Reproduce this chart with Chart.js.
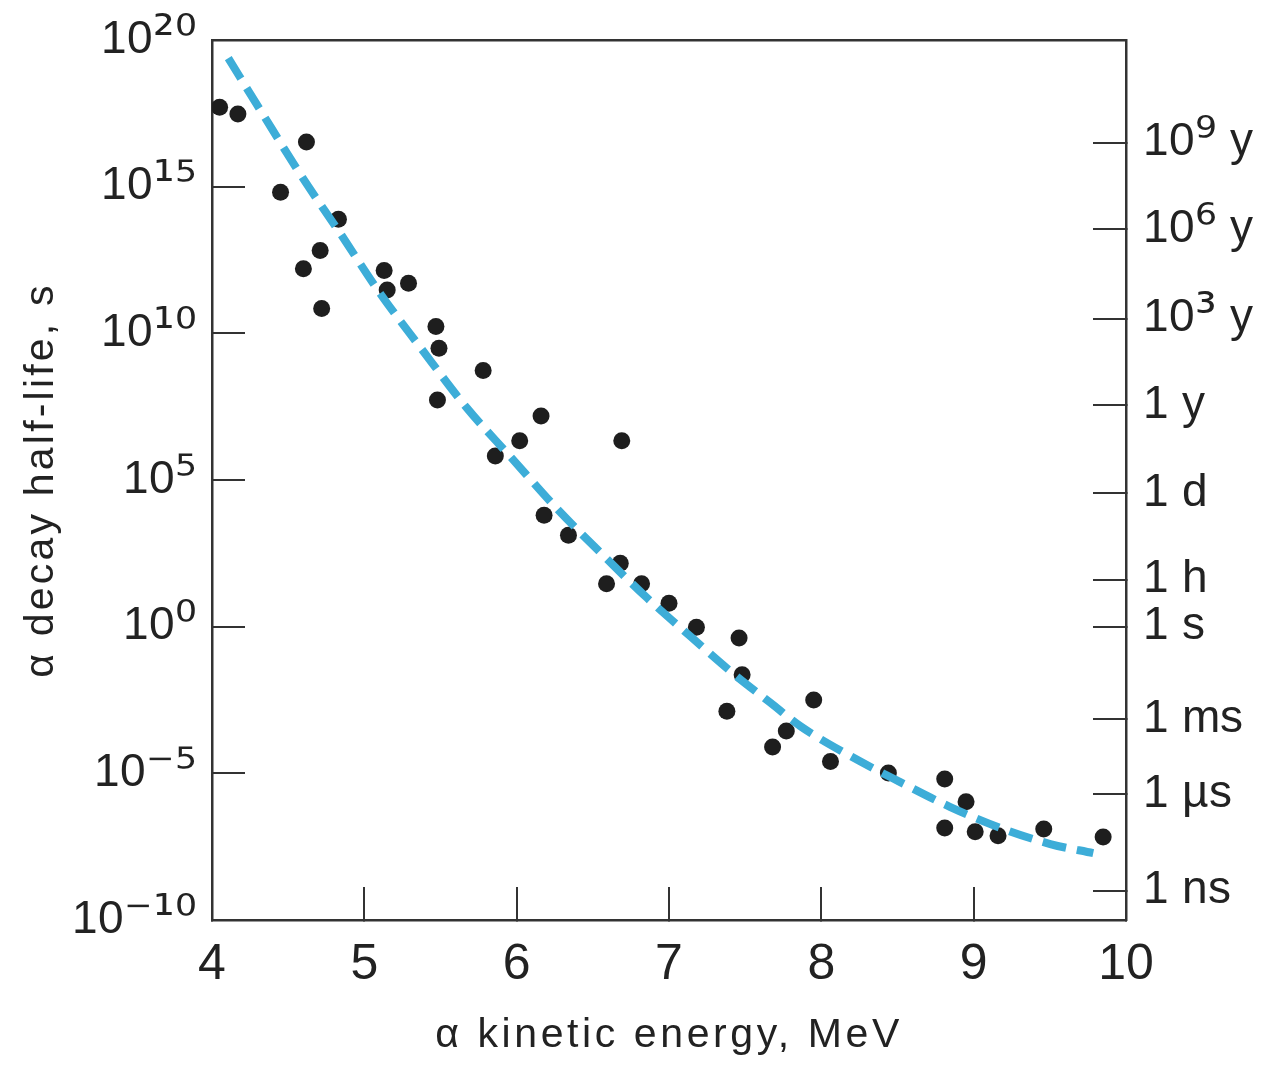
<!DOCTYPE html>
<html>
<head>
<meta charset="utf-8">
<script src="https://cdn.jsdelivr.net/npm/chart.js@4/dist/chart.umd.min.js"></script>
<style>
  @font-face { font-family: 'TickSans'; src: local('Liberation Sans'), local('LiberationSans'); }
  @font-face { font-family: 'TickSans'; src: local('DejaVu Sans'), local('DejaVuSans'); size-adjust: 118%;
               unicode-range: U+00B2-00B3, U+00B9, U+2070-207F; }
  html, body { margin: 0; padding: 0; background: #ffffff; }
  #wrap { width: 1262px; height: 1066px; }
</style>
</head>
<body>
<div id="wrap"><canvas id="c" width="1262" height="1066"></canvas></div>
<script>
// ---- data ----
const energyMeV = [4.05,4.17,4.62,4.45,4.83,4.71,4.60,5.13,5.15,5.29,4.72,5.47,5.49,5.48,5.78,6.16,6.02,5.86,6.69,6.18,6.34,6.68,6.59,6.82,7.00,7.18,7.46,7.48,7.38,7.95,7.77,7.68,8.06,8.44,8.81,8.95,8.81,9.01,9.16,9.46,9.85];
const log10HalfLife = [17.71,17.48,16.52,14.81,13.89,12.82,12.20,12.14,11.48,11.71,10.85,10.23,9.49,7.73,8.73,7.18,6.34,5.82,6.34,3.80,3.12,2.16,1.46,1.46,0.80,-0.02,-0.39,-1.64,-2.88,-2.50,-3.56,-4.10,-4.60,-4.99,-5.19,-5.97,-6.86,-6.99,-7.13,-6.90,-7.17];

const fitEnergy = [4.107,4.317,4.580,4.843,5.105,5.368,5.674,5.958,6.265,6.549,6.856,7.140,7.424,7.665,7.862,8.190,8.518,8.847,9.175,9.503,9.785];
const fitLog10 = [19.38,17.61,15.42,13.40,11.35,9.52,7.45,5.80,4.02,2.53,0.98,-0.33,-1.61,-2.59,-3.39,-4.41,-5.30,-6.15,-6.86,-7.41,-7.72];

const xTickValues = [4,5,6,7,8,9,10];
const leftTickExp = [20,15,10,5,0,-5,-10];
const leftTickLabels = ['10\u00B2\u2070','10\u00B9\u2075','10\u00B9\u2070','10\u2075','10\u2070','10\u207B\u2075','10\u207B\u00B9\u2070'];
const rightTickExp = [16.5,13.55,10.5,7.55,4.55,1.6,0,-3.15,-5.7,-9];
const rightTickLabels = ['10\u2079 y','10\u2076 y','10\u00B3 y','1 y','1 d','1 h','1 s','1 ms','1 \u00B5s','1 ns'];

const xTitle = '\u03B1 kinetic energy, MeV';
const yTitle = '\u03B1 decay half-life, s';

// ---- build datasets ----
const pointData = energyMeV.map((e, i) => ({x: e, y: Math.pow(10, log10HalfLife[i])}));
const fitData = fitEnergy.map((e, i) => ({x: e, y: Math.pow(10, fitLog10[i])}));

const FONT = "'Liberation Sans', Arial, Helvetica, sans-serif";
const TICKFONT = "TickSans, 'Liberation Sans', Arial, sans-serif";
const AXIS = '#333333';
const TICKLEN = 33;

const spacedTitles = {
  id: 'spacedTitles',
  beforeDraw(chart) {
    Object.values(chart.scales).forEach(s => {
      if (s._spacedWrapped) return;
      const orig = s.drawTitle;
      const sp = s.options._letterSpacing || '0px';
      s.drawTitle = function () {
        const ctx = this.ctx;
        ctx.letterSpacing = sp;
        orig.apply(this, arguments);
        ctx.letterSpacing = '0px';
      };
      s._spacedWrapped = true;
    });
  }
};

const noPadV = s => { s.paddingTop = 0; s.paddingBottom = 0; };
const noPadH = s => { s.paddingLeft = 0; s.paddingRight = 0; };

const chart = new Chart(document.getElementById('c'), {
  type: 'scatter',
  data: {
    datasets: [
      {
        label: 'fit',
        type: 'line',
        data: fitData,
        showLine: true,
        borderColor: '#3dadd8',
        borderWidth: 8,
        borderDash: [24, 11],
        pointRadius: 0,
        fill: false,
        cubicInterpolationMode: 'monotone',
        order: 0,
        xAxisID: 'x',
        yAxisID: 'y'
      },
      {
        label: 'nuclides',
        data: pointData,
        backgroundColor: '#1e1e1e',
        borderWidth: 0,
        pointRadius: 8.5,
        order: 1,
        xAxisID: 'x',
        yAxisID: 'y'
      }
    ]
  },
  options: {
    responsive: false,
    animation: false,
    devicePixelRatio: 1,
    layout: { padding: { top: 40, left: 0, right: 0, bottom: 0 } },
    plugins: { legend: { display: false }, tooltip: { enabled: false } },
    scales: {
      x: {
        type: 'linear', position: 'bottom', min: 4, max: 10,
        afterBuildTicks: s => { s.ticks = xTickValues.map(v => ({value: v})); },
        afterFit: s => { s.height = 146; noPadH(s); },
        border: { display: true, color: AXIS, width: 2.5 },
        grid: { drawOnChartArea: false, drawTicks: true, tickLength: -TICKLEN, color: AXIS, lineWidth: 2 },
        ticks: { autoSkip: false, maxRotation: 0, padding: 48, color: '#222', font: { family: FONT, size: 50 },
                 callback: v => String(v) },
        title: { display: true, text: xTitle, color: '#222', font: { family: FONT, size: 41 }, padding: { top: 0, bottom: 6 } },
        _letterSpacing: '3.6px'
      },
      xTop: {
        type: 'linear', position: 'top', min: 4, max: 10,
        afterFit: s => { s.height = 0; noPadH(s); },
        border: { display: true, color: AXIS, width: 2.5 },
        grid: { display: false, drawOnChartArea: false, drawTicks: false },
        ticks: { display: false }
      },
      y: {
        type: 'logarithmic', position: 'left', min: 1e-10, max: 1e20,
        afterBuildTicks: s => { s.ticks = leftTickExp.map(e => ({value: Math.pow(10, e)})); },
        afterFit: s => { s.width = 212; noPadV(s); },
        border: { display: true, color: AXIS, width: 2.5 },
        grid: { drawOnChartArea: false, drawTicks: true, tickLength: -TICKLEN, color: AXIS, lineWidth: 2 },
        ticks: { autoSkip: false, padding: 15 + TICKLEN, color: '#222', font: { family: TICKFONT, size: 46 },
                 callback: (v, i) => leftTickLabels[i] },
        title: { display: true, text: yTitle, color: '#222', font: { family: FONT, size: 41 }, padding: { top: 17, bottom: 0 } },
        _letterSpacing: '3.2px'
      },
      y2: {
        type: 'logarithmic', position: 'right', min: 1e-10, max: 1e20,
        afterBuildTicks: s => { s.ticks = rightTickExp.map(e => ({value: Math.pow(10, e)})); },
        afterFit: s => { s.width = 136; noPadV(s); },
        border: { display: true, color: AXIS, width: 2.5 },
        grid: { drawOnChartArea: false, drawTicks: true, tickLength: -TICKLEN, color: AXIS, lineWidth: 2 },
        ticks: { autoSkip: false, padding: 17 + TICKLEN, color: '#222', font: { family: TICKFONT, size: 46 },
                 callback: (v, i) => rightTickLabels[i] }
      }
    }
  },
  plugins: [spacedTitles]
});

if (document.fonts && document.fonts.load) {
  Promise.all([
    document.fonts.load("46px TickSans", "10\u00B2\u00B3\u00B9\u2070\u2075\u2076\u2079\u207B ysdhmn\u00B5")
  ]).then(() => { chart.update(); }).catch(() => {});
}
</script>
</body>
</html>
